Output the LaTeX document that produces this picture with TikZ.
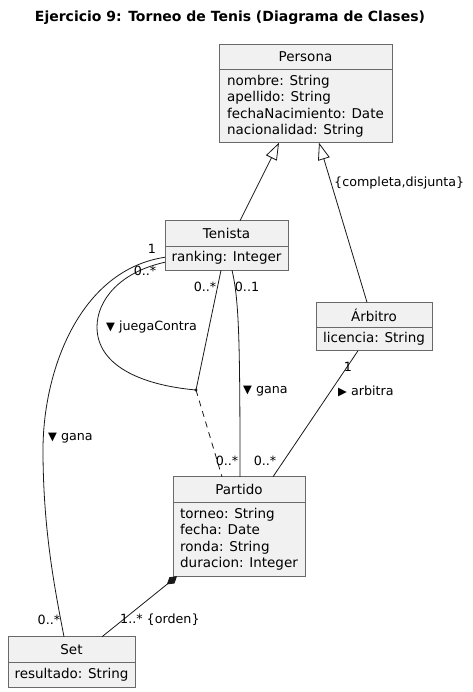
\documentclass[tikz,border=0pt]{standalone}
\usepackage{fontspec}
\setmainfont{DejaVu Sans}
\usetikzlibrary{arrows.meta,calc,positioning}
\definecolor{umlfill}{RGB}{241,241,241}
\definecolor{umlline}{RGB}{24,24,24}
\definecolor{umlframe}{RGB}{105,105,105}
\newcommand{\dirdown}{{\fontsize{11.5}{11}\selectfont ▼}\hspace{4pt}}
\newcommand{\dirright}{{\fontsize{11.5}{11}\selectfont ▶}\hspace{4pt}}

\begin{document}
\begin{tikzpicture}[
  x=1pt, y=-1pt,
  cls/.style={draw=umlframe, fill=umlfill, outer sep=0pt, inner xsep=6pt, line width=0.7pt, font=\fontsize{13.5}{16.3}\selectfont},
  clshead/.style={cls, minimum height=25.5pt, minimum width=#1},
  clsbody/.style={cls, align=left, minimum width=#1},
  mult/.style={font=\fontsize{12.7}{15}\selectfont, inner sep=0pt},
  assoc/.style={draw=umlline, line width=0.8pt},
  inherit/.style={assoc, -{Triangle[open, length=17pt, width=12pt]}},
  compose/.style={assoc, {Diamond[length=13pt, width=8pt]}-}
]
\useasboundingbox (0,0) rectangle (472,692);
\node[font=\bfseries\fontsize{14}{17}\selectfont] (title) at (230,18) {Ejercicio 9: Torneo de Tenis (Diagrama de Clases)};

% classes
\node[clshead=173pt] (persona) at (305.5,57) {Persona};
\node[clsbody=173pt, minimum height=73pt, below=0pt of persona] (personaAttr) {nombre: String\\apellido: String\\fechaNacimiento: Date\\nacionalidad: String};
\node[clshead=123pt] (tenista) at (226.5,233.5) {Tenista};
\node[clsbody=123pt, minimum height=24pt, below=0pt of tenista] (tenistaAttr) {ranking: Integer};
\node[clshead=116pt] (arbitro) at (374,315) {Árbitro};
\node[clsbody=116pt, minimum height=23pt, below=0pt of arbitro] (arbitroAttr) {licencia: String};
\node[clshead=132pt] (partido) at (239,489.5) {Partido};
\node[clsbody=132pt, minimum height=74pt, below=0pt of partido] (partidoAttr) {torneo: String\\fecha: Date\\ronda: String\\duracion: Integer};
\node[clshead=127pt] (set) at (71.5,649.5) {Set};
\node[clsbody=127pt, minimum height=25pt, below=0pt of set] (setAttr) {resultado: String};

% generalization
\draw[inherit] ($(tenista.north)+(13.5,0)$) -- ($(personaAttr.south)+(-26.5,0)$);
\draw[inherit] ($(arbitro.north)+(-7,0)$) -- ($(personaAttr.south)+(13.5,0)$);
\node[mult, anchor=west] (genlabel) at (334,183) {\{completa,disjunta\}};

% juegaContra with association class
\coordinate (matchlink) at (196,390);
\draw[assoc] ($(tenistaAttr.west)+(0,4)$) .. controls (120,272) and (97,300) .. (97,327) .. controls (97,365) and (140,385) .. (matchlink);
\draw[assoc] ($(tenistaAttr.south)+(-5.5,0)$) -- (matchlink);
\fill[umlline] (matchlink) circle (1.6pt);
\draw[assoc, dash pattern=on 6pt off 5pt] (matchlink) -- ($(partido.north)+(-17,0)$);
\node[mult] (jcA) at (145,271) {0..*};
\node[mult] (jcB) at (205,287) {0..*};
\node[mult, anchor=west] (jcLabel) at (106,327) {\dirdown juegaContra};
\node[mult] (jcC) at (227,461) {0..*};

% Tenista gana Partido
\draw[assoc] ($(tenistaAttr.south)+(5.5,0)$) .. controls (239,300) and (240,340) .. ($(partido.north)+(1,0)$);
\node[mult] (gpA) at (247,287) {0..1};
\node[mult, anchor=west] (gpLabel) at (243,391) {\dirdown gana};

% Tenista gana Set
\draw[assoc] ($(tenistaAttr.west)+(0,-1)$) .. controls (80,270) and (43,370) .. (43,450) .. controls (43,530) and (55,590) .. ($(set.north)+(-7.5,0)$);
\node[mult] (gsA) at (152,249) {1};
\node[mult, anchor=west] (gsLabel) at (48,438) {\dirdown gana};
\node[mult] (gsB) at (49,620) {0..*};

% Arbitro arbitra Partido
\draw[assoc] ($(arbitroAttr.south)+(-16,0)$) -- ($(partido.north)+(34,0)$);
\node[mult] (arA) at (348,367) {1};
\node[mult, anchor=west] (arLabel) at (338,391) {\dirright arbitra};
\node[mult] (arB) at (265,461) {0..*};

% Partido composed of Set
\draw[compose] ($(partidoAttr.south)+(-62,0)$) -- ($(set.north)+(30.5,0)$);
\node[mult, anchor=west] (coLabel) at (120,620) {1..* \{orden\}};
\end{tikzpicture}
\end{document}
